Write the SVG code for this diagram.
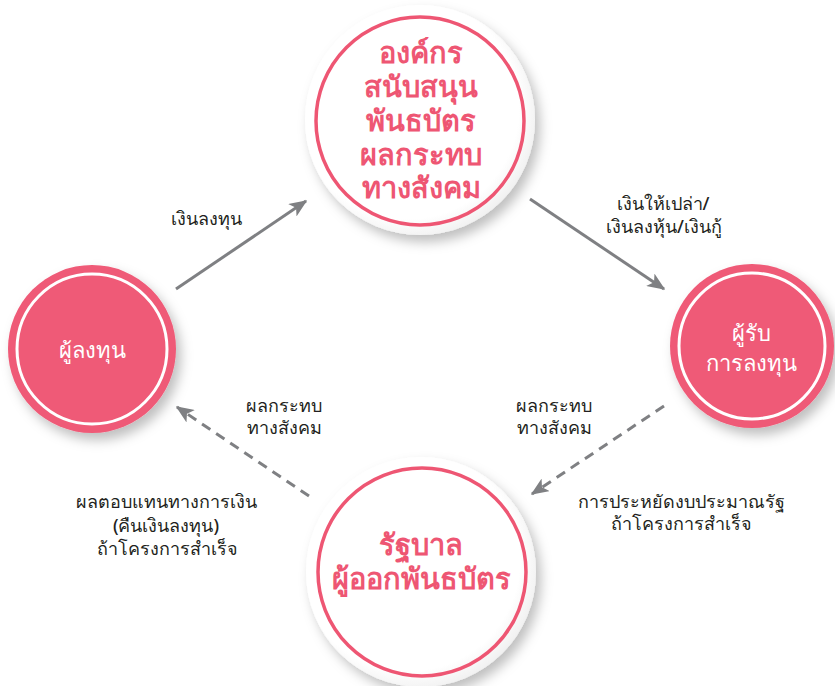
<svg xmlns="http://www.w3.org/2000/svg" width="835" height="686" viewBox="0 0 835 686">
<defs>
<style>
.lbl{font-family:"Noto Sans","DejaVu Sans",sans-serif;font-size:18px;font-weight:500;fill:#231f20;text-anchor:middle}
.big{font-family:"Noto Sans","DejaVu Sans",sans-serif;font-size:29px;font-weight:bold;fill:#ee5673;text-anchor:middle}
.wt{font-family:"Noto Sans","DejaVu Sans",sans-serif;font-size:22px;fill:#ffffff;text-anchor:middle}
.con{stroke:#7f8083;stroke-width:3;fill:none}
.dash{stroke-dasharray:10 7}
.wc{filter:url(#sh)}
.pc{fill:#ef5a77;filter:url(#sh)}
.ring{fill:none;stroke:#ee5673;stroke-width:3.5}
.wring{fill:none;stroke:#ffffff;stroke-width:3}
</style>
<filter id="sh" x="-20%" y="-20%" width="150%" height="150%">
<feDropShadow dx="5" dy="7" stdDeviation="6" flood-color="#000" flood-opacity="0.25"/>
</filter>
<radialGradient id="wg" cx="0.45" cy="0.45" r="0.6">
<stop offset="0.8" stop-color="#ffffff"/>
<stop offset="1" stop-color="#ececec"/>
</radialGradient>
<marker id="ah2" viewBox="0 0 12 10" refX="11" refY="5" markerWidth="18" markerHeight="15" markerUnits="userSpaceOnUse" orient="auto">
<path d="M0,0 L12,5 L0,10 L3,5 z" fill="#7f8083"/>
</marker>
</defs>

<g id="connectors">
<line class="con" x1="176" y1="289" x2="306" y2="201" marker-end="url(#ah2)"/>
<line class="con" x1="530" y1="199" x2="664" y2="289" marker-end="url(#ah2)"/>
<line class="con dash" x1="664" y1="406" x2="532" y2="494" marker-end="url(#ah2)"/>
<line class="con dash" x1="309" y1="496" x2="177" y2="407" marker-end="url(#ah2)"/>
</g>

<g id="top">
<circle class="wc" cx="420" cy="120" r="115" style="fill:url(#wg)"/>
<circle class="ring" cx="420" cy="121" r="104"/>
<text class="big" x="421" y="63">องค์กร</text>
<text class="big" x="421" y="97">สนับสนุน</text>
<text class="big" x="421" y="131">พันธบัตร</text>
<text class="big" x="421" y="165">ผลกระทบ</text>
<text class="big" x="421" y="198">ทางสังคม</text>
</g>

<g id="left">
<circle class="pc" cx="92" cy="349" r="84"/>
<circle class="wring" cx="92" cy="349" r="75"/>
<text class="wt" x="92" y="358">ผู้ลงทุน</text>
</g>

<g id="right">
<circle class="pc" cx="752" cy="346" r="82"/>
<circle class="wring" cx="752" cy="346" r="73"/>
<text class="wt" x="751" y="341">ผู้รับ</text>
<text class="wt" x="751" y="371">การลงทุน</text>
</g>

<g id="bottom">
<circle class="wc" cx="421" cy="572" r="115" style="fill:url(#wg)"/>
<circle class="ring" cx="422" cy="572" r="104"/>
<text class="big" x="421" y="555">รัฐบาล</text>
<text class="big" x="421" y="589">ผู้ออกพันธบัตร</text>
</g>

<g id="labels">
<text class="lbl" x="206" y="225">เงินลงทุน</text>
<text class="lbl" x="663" y="210">เงินให้เปล่า/</text>
<text class="lbl" x="664" y="233">เงินลงหุ้น/เงินกู้</text>
<text class="lbl" x="554" y="412">ผลกระทบ</text>
<text class="lbl" x="554" y="434">ทางสังคม</text>
<text class="lbl" x="681" y="508">การประหยัดงบประมาณรัฐ</text>
<text class="lbl" x="681" y="530">ถ้าโครงการสำเร็จ</text>
<text class="lbl" x="284" y="412">ผลกระทบ</text>
<text class="lbl" x="284" y="434">ทางสังคม</text>
<text class="lbl" x="166" y="508">ผลตอบแทนทางการเงิน</text>
<text class="lbl" x="166" y="532">(คืนเงินลงทุน)</text>
<text class="lbl" x="167" y="555">ถ้าโครงการสำเร็จ</text>
</g>
</svg>
